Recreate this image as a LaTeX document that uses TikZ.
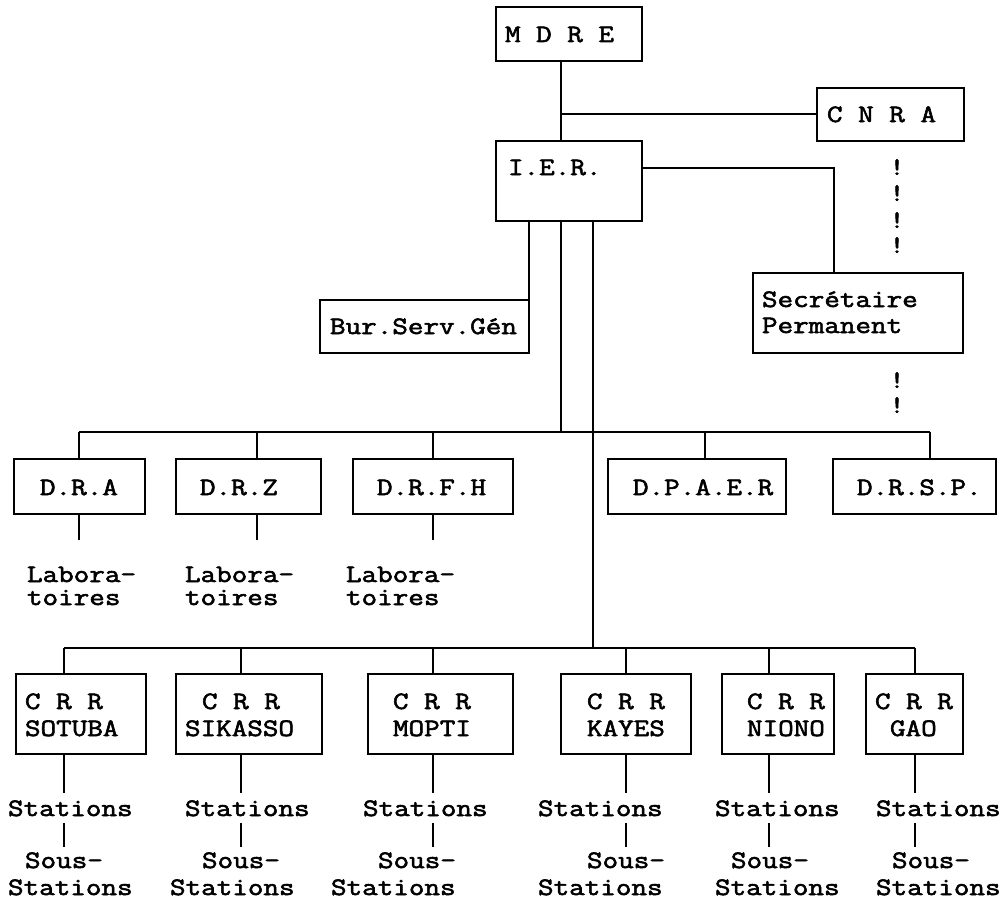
\documentclass[tikz,border=0pt]{standalone}
\usepackage{fontspec}
\newfontfamily\courlike{Latin Modern Mono}[FakeStretch=1.21, FakeBold=2.3]
\begin{document}
\begin{tikzpicture}[x=1pt,y=-1pt,
  box/.style={draw, line width=1.8pt, inner sep=0pt, outer sep=0pt},
  txt/.style={inner sep=0pt, outer sep=0pt, anchor=base west, font=\courlike\fontsize{25}{26}\selectfont},
  bang/.style={inner sep=0pt, font=\courlike\fontsize{25}{26}\selectfont},
  ln/.style={line width=1.8pt}]
\useasboundingbox (0,0) rectangle (1006,899);
% boxes
\node[box, minimum width=146pt, minimum height=54pt] (mdre) at (569,34) {};
\node[box, minimum width=147pt, minimum height=53pt] (cnra) at (890.5,114.5) {};
\node[box, minimum width=146pt, minimum height=80pt] (ier) at (569,181) {};
\node[box, minimum width=209pt, minimum height=53pt] (bur) at (424.5,326.5) {};
\node[box, minimum width=210pt, minimum height=80pt] (sec) at (858,313) {};
\node[box, minimum width=131pt, minimum height=55pt] (dra) at (79.5,486.5) {};
\node[box, minimum width=145pt, minimum height=55pt] (drz) at (248.5,486.5) {};
\node[box, minimum width=160pt, minimum height=55pt] (drfh) at (433,486.5) {};
\node[box, minimum width=178pt, minimum height=55pt] (dpaer) at (697,486.5) {};
\node[box, minimum width=163pt, minimum height=55pt] (drsp) at (914.5,486.5) {};
\node[box, minimum width=130pt, minimum height=80pt] (sotuba) at (81,714) {};
\node[box, minimum width=146pt, minimum height=80pt] (sikasso) at (249,714) {};
\node[box, minimum width=145pt, minimum height=80pt] (mopti) at (440.5,714) {};
\node[box, minimum width=130pt, minimum height=80pt] (kayes) at (626,714) {};
\node[box, minimum width=112pt, minimum height=80pt] (niono) at (778,714) {};
\node[box, minimum width=97pt, minimum height=80pt] (gao) at (914.5,714) {};
% texts
\node[txt] (tmdre) at (505,42) {M D R E};
\node[txt] (tcnra) at (827,122) {C N R A};
\node[txt] (tier) at (508,175) {I.E.R.};
\node[txt] (tbur) at (330,334) {Bur.Serv.Gén};
\node[txt] (tsec1) at (762,307) {Secrétaire};
\node[txt] (tsec2) at (762,333) {Permanent};
\node[txt] (tdra) at (40,495) {D.R.A};
\node[txt] (tdrz) at (200,495) {D.R.Z};
\node[txt] (tdrfh) at (377,495) {D.R.F.H};
\node[txt] (tdpaer) at (633,495) {D.P.A.E.R};
\node[txt] (tdrsp) at (857,495) {D.R.S.P.};
\foreach \n/\x in {la/27, lb/185, lc/346}{
  \node[txt] (\n1) at (\x,582) {Labora-};
  \node[txt] (\n2) at (\x,605) {toires};
}
\foreach \n/\xa/\xb/\name in {sotuba/25/25/SOTUBA, sikasso/202/185/SIKASSO, mopti/393/393/MOPTI, kayes/587/587/KAYES, niono/747/747/NIONO, gao/875/890/GAO}{
  \node[txt] (c\n) at (\xa,709) {C R R};
  \node[txt] (n\n) at (\xb,736) {\name};
}
\foreach \n/\xs/\xo/\xt in {sotuba/8/25/8, sikasso/185/202/170, mopti/363/378/331, kayes/538/587/538, niono/715/731/715, gao/876/892/876}{
  \node[txt] (st\n) at (\xs,816) {Stations};
  \node[txt] (so\n) at (\xo,868) {Sous-};
  \node[txt] (ss\n) at (\xt,895) {Stations};
}
% dotted "!" links
\foreach \y [count=\i] in {167,193,220,245,380,405}{
  \node[bang] (b\i) at (897,\y) {!};
}
% junction coordinates
\coordinate (xa) at (561,0);
\coordinate (xb) at (529,0);
\coordinate (xc) at (593,0);
\coordinate (xs) at (834,0);
\coordinate (ycnra) at (0,114);
\coordinate (yier) at (0,168);
\coordinate (busd) at (0,432);
\coordinate (busc) at (0,648);
% connectors
\draw[ln] (mdre.south -| xa) -- (ier.north -| xa);
\draw[ln] (xa |- ycnra) -- (cnra.west |- ycnra);
\draw[ln] (ier.east |- yier) -- (xs |- yier) -- (sec.north -| xs);
\draw[ln] (ier.south -| xb) -- (bur.north east);
\draw[ln] (ier.south -| xa) -- (xa |- busd);
\draw[ln] (ier.south -| xc) -- (xc |- busc);
% D bus
\draw[ln] (79,432) -- (930,432);
\foreach \b/\x in {dra/79, drz/257, drfh/433, dpaer/705, drsp/930}{
  \draw[ln] (\x,432) -- (\b.north -| {\x,0});
}
\foreach \b/\x in {dra/79, drz/257, drfh/433}{
  \draw[ln] (\b.south -| {\x,0}) -- ++(0,26);
}
% CRR bus
\draw[ln] (64,648) -- (915,648);
\foreach \b/\x in {sotuba/64, sikasso/241, mopti/433, kayes/626, niono/769, gao/915}{
  \draw[ln] (\x,648) -- (\b.north -| {\x,0});
  \draw[ln] (\b.south -| {\x,0}) -- ++(0,39);
  \draw[ln] (\x,823) -- (\x,847);
}
\end{tikzpicture}
\end{document}
